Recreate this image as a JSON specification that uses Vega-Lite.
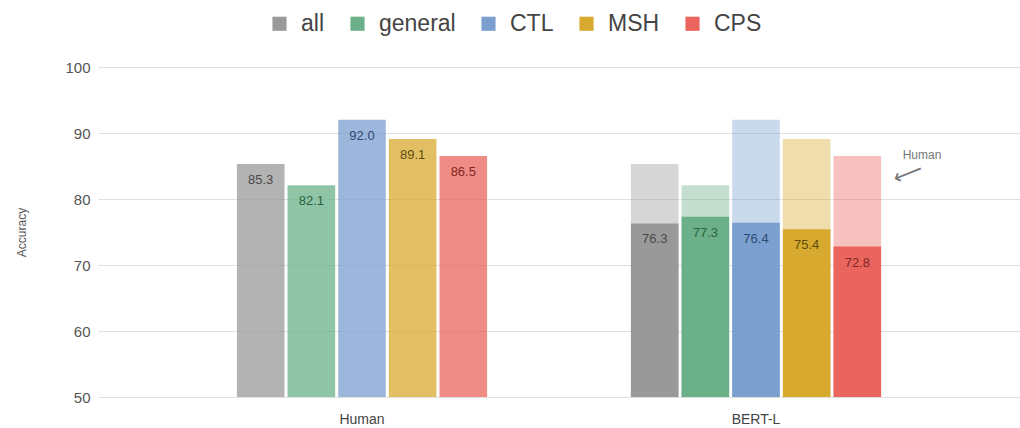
{
  "$schema": "https://vega.github.io/schema/vega-lite/v6.json",
  "autosize": {"type": "none"},
  "width": 922,
  "height": 330,
  "padding": {"left": 98, "top": 67, "right": 0, "bottom": 31},
  "background": "white",
  "config": {
    "font": "Liberation Sans",
    "view": {"stroke": null}
  },
  "datasets": {
    "scores": [
      {"model": "Human", "cat": "all", "score": 85.3, "human": 85.3},
      {"model": "Human", "cat": "general", "score": 82.1, "human": 82.1},
      {"model": "Human", "cat": "CTL", "score": 92.0, "human": 92.0},
      {"model": "Human", "cat": "MSH", "score": 89.1, "human": 89.1},
      {"model": "Human", "cat": "CPS", "score": 86.5, "human": 86.5},
      {"model": "BERT-L", "cat": "all", "score": 76.3, "human": 85.3},
      {"model": "BERT-L", "cat": "general", "score": 77.3, "human": 82.1},
      {"model": "BERT-L", "cat": "CTL", "score": 76.4, "human": 92.0},
      {"model": "BERT-L", "cat": "MSH", "score": 75.4, "human": 89.1},
      {"model": "BERT-L", "cat": "CPS", "score": 72.8, "human": 86.5}
    ],
    "notes": [
      {"model": "BERT-L", "label": "Human", "pos": 86.7, "kind": "text"},
      {"model": "BERT-L", "label": "⟵", "pos": 83.8, "kind": "arrow"}
    ]
  },
  "encoding": {
    "x": {
      "field": "model", "type": "nominal", "sort": ["Human", "BERT-L"],
      "scale": {"paddingInner": 0.365, "paddingOuter": 0.3525},
      "axis": {"title": null, "labelAngle": 0, "domain": false, "ticks": false, "labelPadding": 15, "labelFontSize": 14, "labelColor": "#444444"}
    }
  },
  "layer": [
    {
      "data": {"name": "scores"},
      "mark": {"type": "bar", "clip": true},
      "encoding": {
        "xOffset": {"field": "cat", "type": "nominal", "sort": ["all", "general", "CTL", "MSH", "CPS"], "scale": {"paddingInner": 0.06, "paddingOuter": 0}},
        "y": {
          "field": "human", "type": "quantitative",
          "scale": {"domain": [50, 100], "zero": false, "nice": false},
          "axis": {"title": "Accuracy", "values": [50, 60, 70, 80, 90, 100], "domain": false, "ticks": false, "labelPadding": 8, "labelFontSize": 15, "labelColor": "#555555", "gridColor": "#e0e0e0", "titleFontSize": 12, "titleFontWeight": "normal", "titleColor": "#555555", "titlePadding": 36}
        },
        "fill": {
          "field": "cat", "type": "nominal", "sort": ["all", "general", "CTL", "MSH", "CPS"],
          "scale": {"domain": ["all", "general", "CTL", "MSH", "CPS"], "range": ["#999999", "#6bb088", "#7b9fcf", "#d8a92f", "#e9655e"]},
          "legend": {"title": null, "orient": "none", "direction": "horizontal", "legendX": 170, "legendY": -55, "symbolType": "square", "symbolSize": 200, "symbolStrokeWidth": 0, "symbolOpacity": 1, "labelFontSize": 23, "labelColor": "#444444", "labelOffset": 10, "columnPadding": 21}
        },
        "opacity": {
          "field": "model", "type": "nominal",
          "scale": {"domain": ["Human", "BERT-L"], "range": [0.75, 0.4]},
          "legend": null
        }
      }
    },
    {
      "data": {"name": "scores"},
      "transform": [{"filter": "datum.model === 'BERT-L'"}],
      "mark": {"type": "bar", "clip": true},
      "encoding": {
        "xOffset": {"field": "cat", "type": "nominal", "sort": ["all", "general", "CTL", "MSH", "CPS"]},
        "y": {"field": "score", "type": "quantitative"},
        "fill": {"field": "cat", "type": "nominal"}
      }
    },
    {
      "data": {"name": "scores"},
      "mark": {"type": "text", "baseline": "middle", "dy": 16, "fontSize": 13},
      "encoding": {
        "xOffset": {"field": "cat", "type": "nominal", "sort": ["all", "general", "CTL", "MSH", "CPS"]},
        "y": {"field": "score", "type": "quantitative"},
        "text": {"field": "score", "type": "quantitative", "format": ".1f"},
        "color": {
          "field": "cat", "type": "nominal",
          "scale": {"domain": ["all", "general", "CTL", "MSH", "CPS"], "range": ["#4a4a4a", "#2a6242", "#2f4a72", "#5e4c0c", "#822823"]},
          "legend": null
        }
      }
    },
    {
      "data": {"name": "notes"},
      "transform": [{"filter": "datum.kind === 'text'"}],
      "mark": {"type": "text", "dx": 166, "fontSize": 12, "color": "#777777", "baseline": "middle"},
      "encoding": {
        "y": {"field": "pos", "type": "quantitative"},
        "text": {"field": "label"}
      }
    },
    {
      "data": {"name": "notes"},
      "transform": [{"filter": "datum.kind === 'arrow'"}],
      "mark": {"type": "text", "dx": 141, "dy": 57, "fontSize": 21, "color": "#777777", "baseline": "middle", "angle": 338, "font": "DejaVu Sans"},
      "encoding": {
        "y": {"field": "pos", "type": "quantitative"},
        "text": {"field": "label"}
      }
    }
  ]
}
